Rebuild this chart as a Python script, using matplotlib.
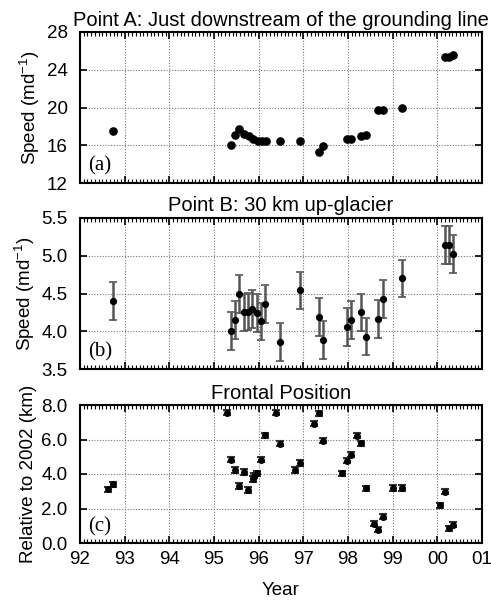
import matplotlib
matplotlib.use("Agg")
import matplotlib.pyplot as plt
from matplotlib.ticker import MultipleLocator, FixedLocator
import numpy as np

# Point A: speed just downstream of the grounding line (m/d)
year_a = [92.73, 95.39, 95.48, 95.57, 95.68, 95.78, 95.88, 95.98, 96.07, 96.16,
          96.48, 96.92, 97.35, 97.44, 97.97, 98.07, 98.30, 98.40, 98.68, 98.78,
          99.21, 100.18, 100.25, 100.34]
speed_a = [17.55, 16.0, 17.1, 17.7, 17.2, 17.0, 16.7, 16.4, 16.4, 16.4,
           16.45, 16.4, 15.3, 15.9, 16.7, 16.7, 16.95, 17.1, 19.75, 19.75,
           19.9, 25.3, 25.4, 25.6]

# Point B: 30 km up-glacier (m/d) with error
year_b = [92.73, 95.39, 95.48, 95.57, 95.67, 95.76, 95.86, 95.96, 96.05, 96.14,
          96.48, 96.92, 97.35, 97.44, 97.97, 98.07, 98.30, 98.40, 98.68, 98.78,
          99.21, 100.18, 100.25, 100.34]
speed_b = [4.40, 4.0, 4.15, 4.49, 4.25, 4.26, 4.29, 4.24, 4.13, 4.36,
           3.86, 4.54, 4.19, 3.88, 4.06, 4.15, 4.25, 3.93, 4.16, 4.43,
           4.70, 5.14, 5.14, 5.02]
err_b = 0.25

# Frontal position relative to 2002 (km)
year_c = [92.63, 92.73, 95.30, 95.39, 95.48, 95.57, 95.68, 95.76, 95.87, 95.90,
          95.96, 96.05, 96.15, 96.39, 96.48, 96.81, 96.92, 97.24, 97.35, 97.44,
          97.87, 97.97, 98.07, 98.21, 98.30, 98.40, 98.59, 98.68, 98.78, 99.01,
          99.21, 100.07, 100.18, 100.25, 100.34]
front_c = [3.12, 3.41, 7.55, 4.82, 4.23, 3.30, 4.12, 3.07, 3.71, 3.90,
           4.04, 4.82, 6.25, 7.55, 5.75, 4.23, 4.64, 6.91, 7.53, 5.94,
           4.04, 4.78, 5.13, 6.23, 5.79, 3.17, 1.13, 0.76, 1.53, 3.19,
           3.19, 2.19, 2.97, 0.85, 1.05]
err_c = 0.15

year_ticks = [92, 93, 94, 95, 96, 97, 98, 99, 100, 101]
year_labels = ["92", "93", "94", "95", "96", "97", "98", "99", "00", "01"]

plt.rcParams["font.family"] = ["Liberation Sans", "DejaVu Sans"]
plt.rcParams["font.size"] = 13.5
plt.rcParams["mathtext.fontset"] = "custom"
plt.rcParams["mathtext.rm"] = "Liberation Sans"

fig = plt.figure(figsize=(4.91, 6.03), dpi=100)
left, width = 80 / 491, 402 / 491
ax_a = fig.add_axes([left, 1 - 183 / 603, width, 151 / 603])
ax_b = fig.add_axes([left, 1 - 369 / 603, width, 151 / 603])
ax_c = fig.add_axes([left, 1 - 543 / 603, width, 138 / 603])


def style_axis(ax, ylim, ystep, fmt, tag):
    ax.set_xlim(92, 101)
    ax.set_ylim(*ylim)
    ax.xaxis.set_major_locator(FixedLocator(year_ticks))
    ax.xaxis.set_minor_locator(MultipleLocator(1 / 12))
    ax.yaxis.set_major_locator(MultipleLocator(ystep))
    ax.yaxis.set_major_formatter(plt.FormatStrFormatter(fmt))
    ax.tick_params(which="both", direction="in", top=True, right=True)
    ax.tick_params(which="major", length=5, width=1.2, labelsize=13.5)
    ax.tick_params(axis="y", which="major", pad=9)
    ax.tick_params(axis="x", which="major", pad=6)
    ax.tick_params(which="minor", length=3, width=0.8)
    ax.tick_params(axis="y", which="minor", left=False, right=False)
    ax.grid(True, which="major", linestyle=(0, (1, 1.5)), color="#777777", linewidth=0.8)
    for s in ax.spines.values():
        s.set_linewidth(1.5)
    ax.text(0.02, 0.05, tag, transform=ax.transAxes, family="Liberation Serif",
            fontsize=15, ha="left", va="bottom")


style_axis(ax_a, (12, 28), 4, "%d", "(a)")
ax_a.plot(year_a, speed_a, "o", color="black", markersize=5.2, zorder=3)
ax_a.set_title("Point A: Just downstream of the grounding line", fontsize=14.5, pad=4)
ax_a.set_ylabel("Speed (md$^{-1}$)", labelpad=3)
ax_a.set_xticklabels([])

style_axis(ax_b, (3.5, 5.5), 0.5, "%.1f", "(b)")
ax_b.errorbar(year_b, speed_b, yerr=err_b, fmt="o", color="black", markersize=4.2,
              ecolor="#555555", elinewidth=1.8, capsize=3, capthick=1.2, zorder=3)
ax_b.set_title("Point B: 30 km up-glacier", fontsize=14.5, pad=5)
ax_b.set_ylabel("Speed (md$^{-1}$)", labelpad=3)
ax_b.set_xticklabels([])

style_axis(ax_c, (0, 8), 2, "%.1f", "(c)")
ax_c.errorbar(year_c, front_c, yerr=err_c, fmt="o", color="black", markersize=4,
              ecolor="#333333", elinewidth=2.5, capsize=3, capthick=1.5, zorder=3)
ax_c.set_title("Frontal Position", fontsize=14.5, pad=4)
ax_c.set_ylabel("Relative to 2002 (km)", labelpad=3)
ax_c.set_xticklabels(year_labels)
ax_c.set_xlabel("Year", labelpad=10)

fig.savefig("out.png", dpi=100)
